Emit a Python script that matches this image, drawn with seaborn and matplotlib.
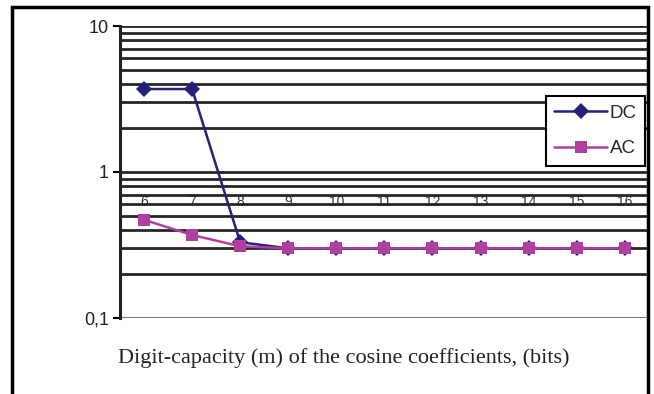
import pandas as pd
import matplotlib.pyplot as plt
import matplotlib.patches as patches
from matplotlib.ticker import FixedLocator, NullFormatter
import seaborn as sns

# values
bits = [6, 7, 8, 9, 10, 11, 12, 13, 14, 15, 16]
dc_values = [3.7, 3.7, 0.33, 0.3, 0.3, 0.3, 0.3, 0.3, 0.3, 0.3, 0.3]
ac_values = [0.47, 0.37, 0.31, 0.3, 0.3, 0.3, 0.3, 0.3, 0.3, 0.3, 0.3]
series_names = ["DC", "AC"]
y_major = [0.1, 1, 10]
y_major_labels = ["0,1", "1", "10"]

df = pd.DataFrame({
    "bits": bits * 2,
    "value": dc_values + ac_values,
    "series": ["DC"] * len(bits) + ["AC"] * len(bits),
})

sns.set_style("white")
plt.rcParams["font.family"] = ["Liberation Sans", "DejaVu Sans"]

fig = plt.figure(figsize=(6.54, 3.94), dpi=100)
ax = fig.add_axes([0.1835, 0.193, 0.8085, 0.741])

# gridlines at every decade step
minor = [m * d for d in (0.1, 1) for m in range(2, 10)]
for v in y_major + minor:
    ax.axhline(v, color="#262626", lw=2.0, zorder=1)

sns.lineplot(data=df, x="bits", y="value", hue="series", style="series",
             hue_order=series_names, style_order=series_names,
             palette={"DC": "#24207a", "AC": "#b0409f"},
             markers={"DC": "D", "AC": "s"}, dashes=False,
             markersize=8, markeredgewidth=0, lw=1.8, ax=ax, zorder=3)

ax.set_yscale("log")
ax.set_ylim(0.1, 10)
ax.set_xlim(5.5, 16.5)
ax.yaxis.set_major_locator(FixedLocator(y_major))
ax.set_yticklabels(y_major_labels)
ax.yaxis.set_minor_locator(FixedLocator(minor))
ax.yaxis.set_minor_formatter(NullFormatter())
ax.tick_params(axis="y", which="major", length=5, width=1.5, left=True,
               labelsize=13, pad=3, color="black", labelcolor="#222222")
ax.tick_params(axis="y", which="minor", length=0)

# category axis crosses the value axis at 0.7
ax.spines["bottom"].set_position(("data", 0.7))
ax.spines["bottom"].set_visible(False)
ax.set_xticks(bits)
ax.set_xticklabels([str(b) for b in bits])
ax.tick_params(axis="x", length=0, labelsize=10, pad=0, colors="#333333")
for lbl in ax.get_xticklabels():
    lbl.set_zorder(2)

ax.spines["left"].set_linewidth(2.2)
ax.spines["left"].set_color("#222222")
ax.spines["top"].set_visible(False)
ax.spines["right"].set_visible(False)
ax.axhline(0.1, color="#777777", lw=1.5, zorder=1)

ax.set_xlabel("")
ax.set_ylabel("")
fig.text(0.526, 0.091, "Digit-capacity (m) of the cosine coefficients, (bits)",
         ha="center", va="center", fontsize=16, family="Liberation Serif",
         color="#222222")

leg = ax.legend(title=None, loc="upper right",
                bbox_to_anchor=(645 / 654, 1 - 96 / 394),
                bbox_transform=fig.transFigure, fontsize=13.5, frameon=True,
                fancybox=False, framealpha=1, edgecolor="black",
                handlelength=2.8, borderpad=0.45, labelspacing=1.0,
                handletextpad=0.15, borderaxespad=0)
leg.get_frame().set_linewidth(1.5)

# outer chart border
fig.patches.append(patches.Rectangle((12 / 654, -0.02), 636 / 654, 1.02 - 7 / 394,
                                     transform=fig.transFigure, fill=False,
                                     edgecolor="black", lw=2.5))

fig.savefig("out.png", dpi=100)
